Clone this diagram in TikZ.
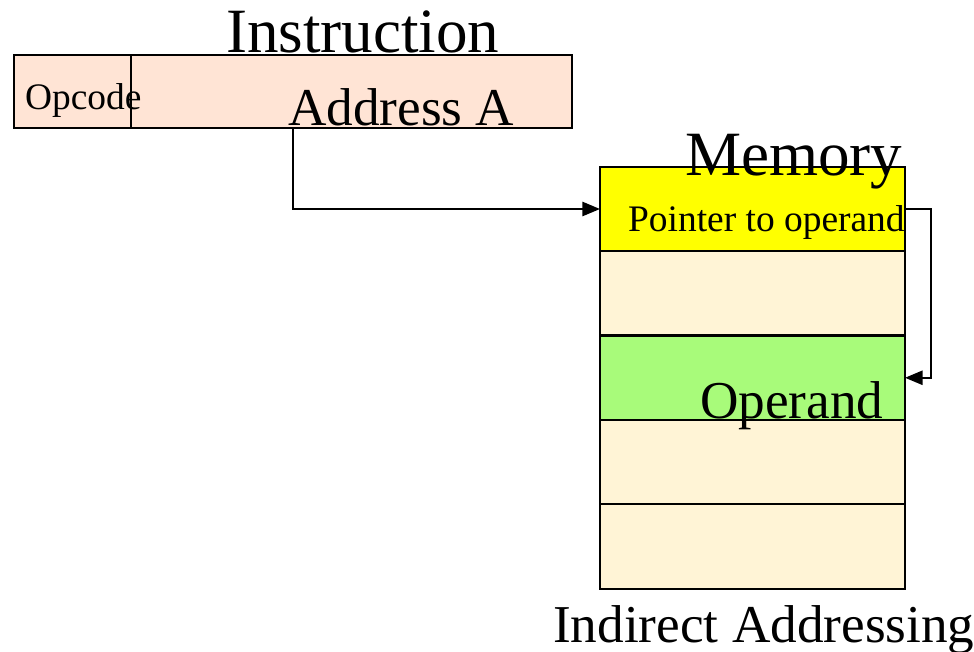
\documentclass[tikz,border=0pt]{standalone}
\usepackage{fontspec}
\setmainfont{Liberation Serif}
\usepackage{xcolor}
\usetikzlibrary{positioning,arrows.meta}

\definecolor{instrfill}{HTML}{FFE4D5}
\definecolor{ptrfill}{HTML}{FFFF00}
\definecolor{cellfill}{HTML}{FFF4D6}
\definecolor{opfill}{HTML}{A8FB7A}

\begin{document}
\begin{tikzpicture}[x=0.02cm, y=-0.02cm, line width=1.3pt, >={Triangle[length=10pt,width=8pt]}]
    \tikzstyle{field} = [rectangle, draw, fill=instrfill, minimum height=1.46cm, inner sep=0pt, outer sep=0pt]
    \tikzstyle{cell} = [rectangle, draw, fill=cellfill, minimum width=6.1cm, minimum height=1.688cm, inner sep=0pt, outer sep=0pt]
    \tikzstyle{title} = [anchor=base west, inner sep=0pt, font=\fontsize{35.9}{40}\selectfont]
    \tikzstyle{label} = [anchor=base west, inner sep=0pt, font=\fontsize{30.3}{34}\selectfont]
    \tikzstyle{small} = [anchor=base west, inner sep=0pt, font=\fontsize{21.3}{24}\selectfont]

    \useasboundingbox (0,0) rectangle (974,652);

    % Instruction word
    \node [field, minimum width=2.34cm] (opcode) at (72.5,91.5) {};
    \node [field, minimum width=8.82cm, right=0pt of opcode] (addr) {};
    \node [title] (instr_title) at (225,53) {Instruction};
    \node [small] (opcode_text) at (24,110) {Opcode};
    \node [label] (addr_text) at (287,126) {Address A};

    % Memory
    \node [cell, fill=ptrfill] (ptr) at (752.5,209) {};
    \node [cell, below=0pt of ptr] (cell_a) {};
    \node [cell, fill=opfill, below=0pt of cell_a] (opnd) {};
    \node [cell, below=0pt of opnd] (cell_b) {};
    \node [cell, below=0pt of cell_b] (cell_c) {};
    \node [title] (mem_title) at (684,175) {Memory};
    \node [small] (ptr_text) at (627,232) {Pointer to operand};
    \node [label] (opnd_text) at (699,418) {Operand};
    \node [label] (caption) at (552,642) {Indirect Addressing};

    % Connections
    \coordinate (tap) at (293,128);
    \draw [->] (tap) |- (ptr.west);
    \draw [->] (ptr.east) -- ++(26,0) |- (opnd.east);
\end{tikzpicture}
\end{document}
